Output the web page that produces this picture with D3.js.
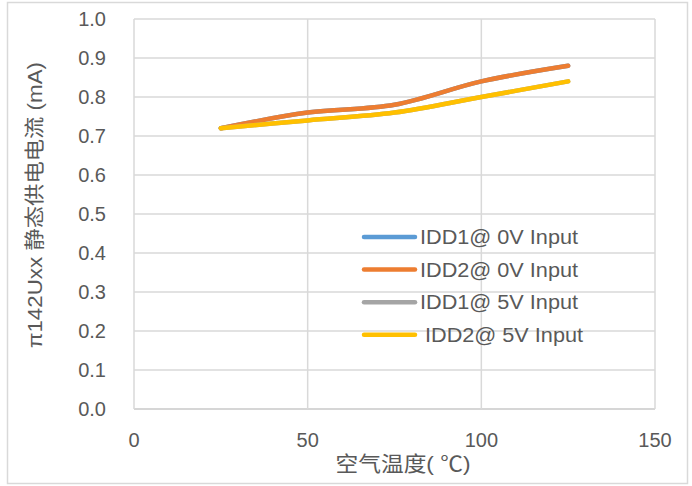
<!DOCTYPE html>
<html><head><meta charset="utf-8">
<script src="https://cdn.jsdelivr.net/npm/d3@7"></script>
<style>body{margin:0;background:#fff}svg{display:block}text{font-family:"Liberation Sans","Noto Sans CJK SC",sans-serif;fill:#595959}</style>
</head><body><svg id="c" width="692" height="486"></svg>
<script>
const temps = [25, 50, 75, 100, 125];
const idd1_0V = [0.72, 0.76, 0.78, 0.84, 0.88];
const idd2_0V = [0.72, 0.76, 0.78, 0.84, 0.88];
const idd1_5V = [0.72, 0.74, 0.76, 0.80, 0.84];
const idd2_5V = [0.72, 0.74, 0.76, 0.80, 0.84];
const seriesNames = ["IDD1@ 0V Input", "IDD2@ 0V Input", "IDD1@ 5V Input", "IDD2@ 5V Input"];
const seriesColors = ["#5b9bd5", "#ed7d31", "#a5a5a5", "#ffc000"];
const xTicks = [0, 50, 100, 150];
const yTicks = [0, 0.1, 0.2, 0.3, 0.4, 0.5, 0.6, 0.7, 0.8, 0.9, 1.0];
const xTitle = "空气温度( ℃)";
const yTitle = "π142Uxx 静态供电电流 (mA)";

const svg = d3.select("#c");
svg.append("rect").attr("x",7.5).attr("y",2.5).attr("width",680).attr("height",481)
  .attr("fill","#fff").attr("stroke","#d9d9d9").attr("stroke-width",1.5);

const x = d3.scaleLinear().domain([0,150]).range([134,655]);
const y = d3.scaleLinear().domain([0,1]).range([409,19]);

const g = svg.append("g");
g.selectAll(".hg").data(yTicks).join("line")
  .attr("x1",x(0)).attr("x2",x(150)).attr("y1",d=>y(d)).attr("y2",d=>y(d))
  .attr("stroke",(d)=>d===0?"#c8c8c8":"#d9d9d9").attr("stroke-width",1.5);
g.selectAll(".vg").data(xTicks).join("line")
  .attr("x1",d=>x(d)).attr("x2",d=>x(d)).attr("y1",y(0)).attr("y2",y(1))
  .attr("stroke","#d9d9d9").attr("stroke-width",1.5);

g.selectAll(".yl").data(yTicks).join("text")
  .attr("x",106).attr("y",d=>y(d)).attr("dy","0.35em").attr("text-anchor","end")
  .attr("font-size",20).text(d=>d3.format(".1f")(d));
g.selectAll(".xl").data(xTicks).join("text")
  .attr("x",d=>x(d)).attr("y",447).attr("text-anchor","middle")
  .attr("font-size",20).text(d=>d);

svg.append("text").attr("x",403).attr("y",471).attr("text-anchor","middle")
  .attr("font-size",21).attr("textLength",135).attr("lengthAdjust","spacingAndGlyphs").text(xTitle);
svg.append("text").attr("transform","translate(42,205) rotate(-90)").attr("text-anchor","middle")
  .attr("font-size",20).attr("textLength",286).attr("lengthAdjust","spacingAndGlyphs").text(yTitle);

const all = [idd1_0V, idd2_0V, idd1_5V, idd2_5V];
const line = d3.line().x((d,i)=>x(temps[i])).y(d=>y(d)).curve(d3.curveCatmullRom.alpha(0.5));
all.forEach((s,k)=>{
  svg.append("path").attr("d",line(s)).attr("fill","none")
    .attr("stroke",seriesColors[k]).attr("stroke-width",4.5).attr("stroke-linecap","round");
});

const lg = svg.append("g");
seriesNames.forEach((n,k)=>{
  const yy = 237 + k*32.6;
  lg.append("line").attr("x1",364).attr("x2",415).attr("y1",yy).attr("y2",yy)
    .attr("stroke",seriesColors[k]).attr("stroke-width",4.5).attr("stroke-linecap","round");
  lg.append("text").attr("x",k===3?425:420).attr("y",yy).attr("dy","0.36em").attr("font-size",20)
    .attr("textLength",158).attr("lengthAdjust","spacingAndGlyphs").text(n);
});
</script></body></html>
